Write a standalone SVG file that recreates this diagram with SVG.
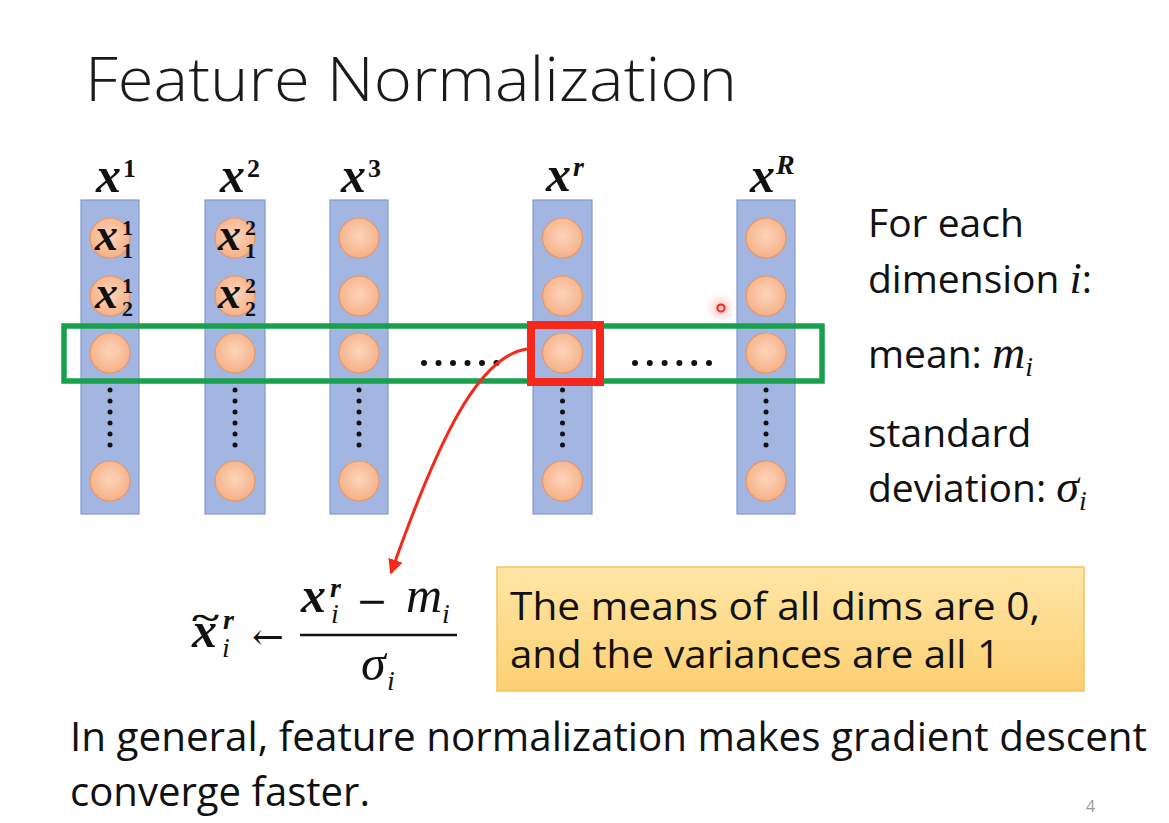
<svg xmlns="http://www.w3.org/2000/svg" width="1169" height="823" viewBox="0 0 1169 823">
<style>
.sans{font-family:"Open Sans","Liberation Sans",sans-serif;fill:#111;}
.title{font-size:60px;font-weight:300;fill:#1a1a1a;}
.rt{font-size:39px;}
.bt{font-size:40px;}
.yt{font-size:39px;}
.col{fill:#a3b6e1;stroke:#8099d0;stroke-width:1.2;}
.nd{fill:url(#cg);stroke:#e3976b;stroke-width:1.2;}
.vd{fill:#111;}
.hx{font-family:"Liberation Serif","DejaVu Serif",serif;font-style:italic;font-weight:bold;font-size:50px;fill:#111;}
.hs{font-family:"Liberation Serif","DejaVu Serif",serif;font-weight:bold;font-size:26px;fill:#111;}
.lx{font-family:"Liberation Serif","DejaVu Serif",serif;font-style:italic;font-weight:bold;font-size:46px;fill:#111;}
.ls{font-family:"Liberation Serif","DejaVu Serif",serif;font-weight:bold;font-size:22px;fill:#111;}
.mi{font-family:"Liberation Serif","DejaVu Serif",serif;font-style:italic;}
.fx{font-family:"Liberation Serif","DejaVu Serif",serif;font-style:italic;font-weight:bold;font-size:50px;fill:#111;}
.fm{font-family:"Liberation Serif","DejaVu Serif",serif;font-style:italic;font-size:50px;fill:#111;}
.fs{font-family:"Liberation Serif","DejaVu Serif",serif;font-style:italic;font-size:28px;fill:#111;}
.fsb{font-family:"Liberation Serif","DejaVu Serif",serif;font-style:italic;font-weight:bold;font-size:28px;fill:#111;}
.op{font-family:"DejaVu Serif","Liberation Serif",serif;font-size:38px;fill:#111;}
</style>
<defs>
<radialGradient id="cg" cx="50%" cy="45%" r="55%">
<stop offset="0" stop-color="#fcd4bb"/>
<stop offset="1" stop-color="#f6b186"/>
</radialGradient>
<linearGradient id="yg" x1="0" y1="0" x2="0" y2="1">
<stop offset="0" stop-color="#ffe6a6"/>
<stop offset="1" stop-color="#fdcf72"/>
</linearGradient>
<marker id="ah" viewBox="0 0 10 10" refX="9" refY="5" markerWidth="5" markerHeight="5" orient="auto" markerUnits="strokeWidth">
<path d="M0,0 L10,5 L0,10 z" fill="#f4291c"/>
</marker>
<filter id="glow" x="-1" y="-1" width="3" height="3"><feGaussianBlur stdDeviation="4"/></filter>
</defs>
<rect width="1169" height="823" fill="#ffffff"/>
<text class="sans title" x="85" y="101" textLength="652" lengthAdjust="spacingAndGlyphs">Feature Normalization</text>

<g id="col1">
<rect class="col" x="81" y="200" width="58" height="314"/>
<circle class="nd" cx="110" cy="238" r="20"/>
<circle class="nd" cx="110" cy="296" r="20"/>
<circle class="nd" cx="110" cy="353" r="20"/>
<circle class="nd" cx="110" cy="481" r="20"/>
<g class="vd"><circle cx="110" cy="390" r="2.5"/><circle cx="110" cy="401" r="2.5"/><circle cx="110" cy="412" r="2.5"/><circle cx="110" cy="423" r="2.5"/><circle cx="110" cy="434" r="2.5"/><circle cx="110" cy="445" r="2.5"/></g>
<text class="hx" x="96" y="192">x</text><text class="hs" x="123" y="177">1</text>
<text class="lx" x="95" y="250">x</text><text class="ls" x="122" y="235">1</text><text class="ls" x="122" y="258">1</text>
<text class="lx" x="95" y="308">x</text><text class="ls" x="122" y="293">1</text><text class="ls" x="122" y="316">2</text>
</g>

<g id="col2">
<rect class="col" x="205" y="200" width="60" height="314"/>
<circle class="nd" cx="235" cy="238" r="20"/>
<circle class="nd" cx="235" cy="296" r="20"/>
<circle class="nd" cx="235" cy="353" r="20"/>
<circle class="nd" cx="235" cy="481" r="20"/>
<g class="vd"><circle cx="235" cy="390" r="2.5"/><circle cx="235" cy="401" r="2.5"/><circle cx="235" cy="412" r="2.5"/><circle cx="235" cy="423" r="2.5"/><circle cx="235" cy="434" r="2.5"/><circle cx="235" cy="445" r="2.5"/></g>
<text class="hx" x="220" y="192">x</text><text class="hs" x="247" y="177">2</text>
<text class="lx" x="218" y="250">x</text><text class="ls" x="245" y="235">2</text><text class="ls" x="245" y="258">1</text>
<text class="lx" x="218" y="308">x</text><text class="ls" x="245" y="293">2</text><text class="ls" x="245" y="316">2</text>
</g>

<g id="col3">
<rect class="col" x="330" y="200" width="58" height="314"/>
<circle class="nd" cx="359" cy="238" r="20"/>
<circle class="nd" cx="359" cy="296" r="20"/>
<circle class="nd" cx="359" cy="353" r="20"/>
<circle class="nd" cx="359" cy="481" r="20"/>
<g class="vd"><circle cx="359" cy="390" r="2.5"/><circle cx="359" cy="401" r="2.5"/><circle cx="359" cy="412" r="2.5"/><circle cx="359" cy="423" r="2.5"/><circle cx="359" cy="434" r="2.5"/><circle cx="359" cy="445" r="2.5"/></g>
<text class="hx" x="341" y="192">x</text><text class="hs" x="368" y="177">3</text>
</g>

<g id="colr">
<rect class="col" x="533" y="200" width="59" height="314"/>
<circle class="nd" cx="562.5" cy="238" r="20"/>
<circle class="nd" cx="562.5" cy="296" r="20"/>
<circle class="nd" cx="562.5" cy="353" r="20"/>
<circle class="nd" cx="562.5" cy="481" r="20"/>
<g class="vd"><circle cx="562.5" cy="390" r="2.5"/><circle cx="562.5" cy="401" r="2.5"/><circle cx="562.5" cy="412" r="2.5"/><circle cx="562.5" cy="423" r="2.5"/><circle cx="562.5" cy="434" r="2.5"/><circle cx="562.5" cy="445" r="2.5"/></g>
<text class="hx" x="546" y="191">x</text><text class="fsb" x="573" y="176">r</text>
</g>

<g id="colR">
<rect class="col" x="737" y="200" width="58" height="314"/>
<circle class="nd" cx="766" cy="238" r="20"/>
<circle class="nd" cx="766" cy="296" r="20"/>
<circle class="nd" cx="766" cy="353" r="20"/>
<circle class="nd" cx="766" cy="481" r="20"/>
<g class="vd"><circle cx="766" cy="390" r="2.5"/><circle cx="766" cy="401" r="2.5"/><circle cx="766" cy="412" r="2.5"/><circle cx="766" cy="423" r="2.5"/><circle cx="766" cy="434" r="2.5"/><circle cx="766" cy="445" r="2.5"/></g>
<text class="hx" x="750" y="192">x</text><text class="fsb" x="776" y="174">R</text>
</g>

<g id="hdots" class="vd">
<circle cx="424" cy="363" r="3"/><circle cx="438.5" cy="363" r="3"/><circle cx="453" cy="363" r="3"/><circle cx="467.5" cy="363" r="3"/><circle cx="482" cy="363" r="3"/><circle cx="496.5" cy="363" r="3"/>
<circle cx="635" cy="363" r="3"/><circle cx="649.8" cy="363" r="3"/><circle cx="664.6" cy="363" r="3"/><circle cx="679.4" cy="363" r="3"/><circle cx="694.2" cy="363" r="3"/><circle cx="709" cy="363" r="3"/>
</g>

<g id="highlight">
<rect x="64" y="326" width="758" height="55" fill="none" stroke="#18a04c" stroke-width="5.5"/>
<rect x="531" y="325" width="69" height="57" fill="none" stroke="#f4291c" stroke-width="8"/>
</g>

<g id="pointer">
<circle cx="721" cy="308" r="8" fill="#ff3b2f" opacity="0.35" filter="url(#glow)"/>
<circle cx="721" cy="308" r="3.6" fill="none" stroke="#f4291c" stroke-width="2"/>
</g>

<g id="connectors">
<path d="M527,349 C478,356 438,440 391,573" fill="none" stroke="#f4291c" stroke-width="3" marker-end="url(#ah)"/>
</g>

<g id="formula">
<text class="fx" x="192" y="647">x</text>
<text x="192" y="629" textLength="27" lengthAdjust="spacingAndGlyphs" style="font-family:'Liberation Serif','DejaVu Serif',serif;font-weight:bold;font-size:34px;fill:#111">~</text>
<text class="fsb" x="223" y="629">r</text>
<text class="fs" x="222" y="657">i</text>
<text class="op" x="252" y="650">&#x2190;</text>
<text class="fx" x="301" y="612">x</text>
<text class="fsb" x="330" y="597">r</text>
<text class="fs" x="331" y="623">i</text>
<text class="op" x="356" y="614">&#x2212;</text>
<text class="fm" x="406" y="612">m</text>
<text class="fs" x="442" y="623">i</text>
<line x1="300" y1="635" x2="457" y2="635" stroke="#111" stroke-width="2.5"/>
<text class="fm" x="361" y="680">&#x3C3;</text>
<text class="fs" x="387" y="690">i</text>
</g>

<g id="side-text" class="sans rt">
<text x="868" y="237">For each</text>
<text x="868" y="293">dimension <tspan class="mi" font-size="44">i</tspan>:</text>
<text x="868" y="368">mean: <tspan class="mi" font-size="46">m</tspan><tspan class="mi" font-size="28" dy="8">i</tspan></text>
<text x="868" y="447">standard</text>
<text x="868" y="502">deviation: <tspan class="mi" font-size="46">σ</tspan><tspan class="mi" font-size="28" dy="8">i</tspan></text>
</g>

<g id="note">
<rect x="497" y="567" width="587" height="124" fill="url(#yg)" stroke="#f2c35e" stroke-width="1.5"/>
<text class="sans yt" x="510" y="620" textLength="530" lengthAdjust="spacingAndGlyphs">The means of all dims are 0,</text>
<text class="sans yt" x="510" y="668" textLength="490" lengthAdjust="spacingAndGlyphs">and the variances are all 1</text>
</g>

<text class="sans bt" x="70" y="751" textLength="1077" lengthAdjust="spacingAndGlyphs">In general, feature normalization makes gradient descent</text>
<text class="sans bt" x="70" y="806" textLength="300" lengthAdjust="spacingAndGlyphs">converge faster.</text>
<text class="sans" x="1086" y="812" font-size="16" style="fill:#9a9a9a">4</text>
</svg>
